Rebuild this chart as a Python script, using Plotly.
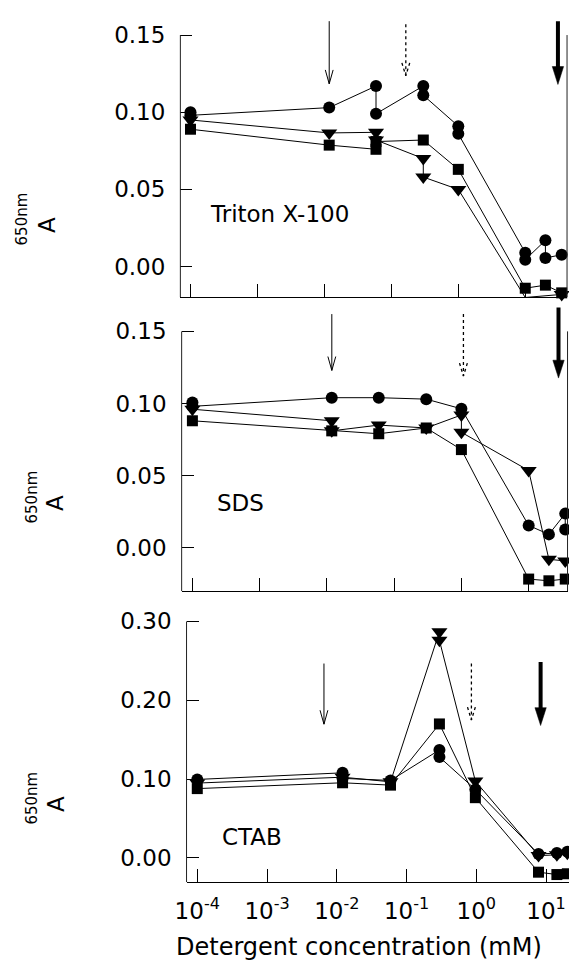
import plotly.graph_objects as go

W, H = 569, 962
FONT = "DejaVu Sans"

# ---------------- data (concentration in mM, absorbance A650) ----------------
# Triton X-100
tx_circ_x = [1e-4, 1e-4, 0.0118, 0.059, 0.059, 0.30, 0.30, 1.0, 1.0, 10.0, 10.0, 20.0, 20.0, 35.0]
tx_circ_y = [0.100, 0.098, 0.103, 0.117, 0.099, 0.117, 0.111, 0.091, 0.086, 0.009, 0.0045, 0.017, 0.0056, 0.0077]
tx_sq_x = [1e-4, 0.0118, 0.059, 0.059, 0.30, 1.0, 10.0, 20.0, 35.0]
tx_sq_y = [0.089, 0.0787, 0.076, 0.081, 0.082, 0.063, -0.014, -0.012, -0.017]
tx_tri_x = [1e-4, 0.0118, 0.059, 0.059, 0.30, 0.30, 1.0, 10.0, 35.0]
tx_tri_y = [0.095, 0.0866, 0.087, 0.082, 0.070, 0.058, 0.050, -0.020, -0.018]

# SDS
sds_circ_x = [1e-4, 1e-4, 0.0118, 0.059, 0.30, 1.0, 10.0, 20.0, 35.0, 35.0]
sds_circ_y = [0.1007, 0.098, 0.104, 0.104, 0.103, 0.0963, 0.0154, 0.0092, 0.0236, 0.0126]
sds_sq_x = [1e-4, 0.0118, 0.059, 0.30, 1.0, 10.0, 20.0, 35.0]
sds_sq_y = [0.088, 0.081, 0.079, 0.083, 0.068, -0.0218, -0.023, -0.0218]
sds_tri_x = [1e-4, 0.0118, 0.0118, 0.059, 0.30, 1.0, 1.0, 10.0, 20.0, 35.0]
sds_tri_y = [0.096, 0.088, 0.081, 0.085, 0.083, 0.092, 0.080, 0.0535, -0.0081, -0.0092]

# CTAB
ctab_circ_x = [1e-4, 0.0121, 0.0121, 0.0589, 0.296, 0.296, 0.97, 7.8, 14.3, 20.2]
ctab_circ_y = [0.0996, 0.108, 0.101, 0.0983, 0.137, 0.128, 0.087, 0.005, 0.0063, 0.008]
ctab_sq_x = [1e-4, 0.0121, 0.0589, 0.296, 0.97, 7.8, 14.3, 20.2]
ctab_sq_y = [0.088, 0.0954, 0.0924, 0.170, 0.0765, -0.018, -0.021, -0.020]
ctab_tri_x = [1e-4, 0.0121, 0.0589, 0.296, 0.296, 0.97, 7.8, 14.3, 20.2]
ctab_tri_y = [0.095, 0.1025, 0.0966, 0.287, 0.276, 0.0975, 0.003, 0.004, 0.006]

panel_names = ["Triton X-100", "SDS", "CTAB"]
x_tickvals = [1e-4, 1e-3, 1e-2, 1e-1, 1e0, 1e1]
x_ticktext = ["10<sup>-4</sup>", "10<sup>-3</sup>", "10<sup>-2</sup>", "10<sup>-1</sup>",
              "10<sup>0</sup>", "10<sup>1</sup>"]
y_tickvals_small = [0.0, 0.05, 0.10, 0.15]
y_ticktext_small = ["0.00", "0.05", "0.10", "0.15"]
y_tickvals_big = [0.0, 0.10, 0.20, 0.30]
y_ticktext_big = ["0.00", "0.10", "0.20", "0.30"]

# arrow markers: (log10 conc, y tail, y head, style)
arrows_tx = [(-1.928, 0.159, 0.1184, "thin"), (-0.784, 0.157, 0.1236, "dot"), (1.488, 0.159, 0.118, "thick")]
arrows_sds = [(-1.927, 0.162, 0.1229, "thin"), (0.03, 0.162, 0.119, "dot"), (1.444, 0.1666, 0.1176, "thick")]
arrows_ctab = [(-2.184, 0.2466, 0.1697, "thin"), (-0.070, 0.2466, 0.175, "dot"), (0.922, 0.2487, 0.168, "thick")]

# ---------------- layout geometry (pixels) ----------------
panels = [
    dict(xpx=(172, 567), ypx=(12, 293), xr=(-4.151, 1.624), yr=(-0.0198, 0.1611), ytop=0.15,
         dec=68.4, unit=1552, right=True,
         series=[(tx_circ_x, tx_circ_y, "circle", 12), (tx_sq_x, tx_sq_y, "square", 11),
                 (tx_tri_x, tx_tri_y, "triangle-down", 14)],
         arrows=arrows_tx, tv=y_tickvals_small, tt=y_ticktext_small,
         label=(200, 209), A=(35, 220), nm=(10, 214)),
    dict(xpx=(173.3, 567.5), ypx=(300, 589), xr=(-4.160, 1.578), yr=(-0.0303, 0.1689), ytop=0.15,
         dec=68.7, unit=1451, right=True,
         series=[(sds_circ_x, sds_circ_y, "circle", 12), (sds_sq_x, sds_sq_y, "square", 11),
                 (sds_tri_x, sds_tri_y, "triangle-down", 14)],
         arrows=arrows_sds, tv=y_tickvals_small, tt=y_ticktext_small,
         label=(207, 500), A=(44, 500), nm=(20, 494)),
    dict(xpx=(178.3, 569), ypx=(612, 881.7), xr=(-4.154, 1.329), yr=(-0.0307, 0.3092), ytop=0.30,
         dec=71.25, unit=793.3, right=False,
         series=[(ctab_circ_x, ctab_circ_y, "circle", 12), (ctab_sq_x, ctab_sq_y, "square", 11),
                 (ctab_tri_x, ctab_tri_y, "triangle-down", 14)],
         arrows=arrows_ctab, tv=y_tickvals_big, tt=y_ticktext_big,
         label=(212, 836), A=(45, 803), nm=(20, 797)),
]

fig = go.Figure()
layout = dict(width=W, height=H, margin=dict(l=0, r=0, t=0, b=0), autosize=False,
              paper_bgcolor="white", plot_bgcolor="white", showlegend=False,
              font=dict(family=FONT, color="black", size=22))
shapes = []
annotations = []

for i, p in enumerate(panels, start=1):
    xa = "x" if i == 1 else f"x{i}"
    ya = "y" if i == 1 else f"y{i}"
    xkey = "xaxis" if i == 1 else f"xaxis{i}"
    ykey = "yaxis" if i == 1 else f"yaxis{i}"
    last = i == len(panels)
    layout[xkey] = dict(
        domain=[p["xpx"][0] / W, p["xpx"][1] / W], type="log", range=list(p["xr"]),
        anchor=ya, showline=True, linecolor="black", linewidth=1, mirror=False,
        ticks="inside", ticklen=13, tickwidth=1, tickcolor="black",
        tickmode="array", tickvals=x_tickvals, ticktext=x_ticktext,
        showticklabels=last, tickfont=dict(family=FONT, size=23, color="black"),
        ticklabelstandoff=8, showgrid=False, zeroline=False, fixedrange=True)
    layout[ykey] = dict(
        domain=[1 - p["ypx"][1] / H, 1 - p["ypx"][0] / H], range=list(p["yr"]),
        anchor=xa, showline=False, ticks="inside", ticklen=12, tickwidth=1,
        tickcolor="black", tickmode="array", tickvals=p["tv"], ticktext=p["tt"],
        tickfont=dict(family=FONT, size=23, color="black"), ticklabelstandoff=14,
        showgrid=False, zeroline=False, fixedrange=True)

    # left spine (up to the top tick) and right edge line
    shapes.append(dict(type="line", xref=f"{xa} domain", yref=ya, x0=0, x1=0,
                       y0=p["yr"][0], y1=p["ytop"], line=dict(color="#222", width=1)))
    if p["right"]:
        shapes.append(dict(type="line", xref=f"{xa} domain", yref=ya, x0=1, x1=1,
                           y0=p["yr"][0], y1=p["ytop"], line=dict(color="#222", width=1)))

    # data series
    for sx, sy, sym, sz in p["series"]:
        fig.add_trace(go.Scatter(x=sx, y=sy, xaxis=xa, yaxis=ya, mode="lines+markers",
                                 line=dict(color="black", width=1),
                                 marker=dict(symbol=sym, size=sz, color="black",
                                             line=dict(width=0)),
                                 cliponaxis=False, hoverinfo="skip"))

    # arrows
    dec, unit = p["dec"], p["unit"]
    for xl, yt, yh, style in p["arrows"]:
        xc = 10 ** xl
        if style == "thin":
            hw, hl = 4.0, 14.0
            fig.add_trace(go.Scatter(x=[xc, xc], y=[yt, yh], xaxis=xa, yaxis=ya, mode="lines",
                                     line=dict(color="black", width=1), hoverinfo="skip",
                                     cliponaxis=False))
            fig.add_trace(go.Scatter(x=[10 ** (xl - hw / dec), xc, 10 ** (xl + hw / dec)],
                                     y=[yh + hl / unit, yh, yh + hl / unit], xaxis=xa, yaxis=ya,
                                     mode="lines", line=dict(color="black", width=1),
                                     hoverinfo="skip", cliponaxis=False))
        elif style == "dot":
            hw, hl = 4.0, 13.0
            fig.add_trace(go.Scatter(x=[xc, xc], y=[yt, yh], xaxis=xa, yaxis=ya, mode="lines",
                                     line=dict(color="black", width=1.3, dash="dot"),
                                     hoverinfo="skip", cliponaxis=False))
            fig.add_trace(go.Scatter(x=[10 ** (xl - hw / dec), xc, 10 ** (xl + hw / dec)],
                                     y=[yh + hl / unit, yh, yh + hl / unit], xaxis=xa, yaxis=ya,
                                     mode="lines", line=dict(color="black", width=1.3, dash="dot"),
                                     hoverinfo="skip", cliponaxis=False))
        else:
            hw, hl = 5.8, 18.0
            fig.add_trace(go.Scatter(x=[xc, xc], y=[yt, yh + hl * 0.7 / unit], xaxis=xa, yaxis=ya,
                                     mode="lines", line=dict(color="black", width=4),
                                     hoverinfo="skip", cliponaxis=False))
            fig.add_trace(go.Scatter(x=[10 ** (xl - hw / dec), 10 ** (xl + hw / dec), xc,
                                        10 ** (xl - hw / dec)],
                                     y=[yh + hl / unit, yh + hl / unit, yh, yh + hl / unit],
                                     xaxis=xa, yaxis=ya, mode="lines", fill="toself",
                                     fillcolor="black", line=dict(color="black", width=0.5),
                                     hoverinfo="skip", cliponaxis=False))

    # panel name
    annotations.append(dict(text=panel_names[i - 1], xref="paper", yref="paper",
                            x=p["label"][0] / W, y=1 - p["label"][1] / H, xanchor="left",
                            yanchor="middle", showarrow=False,
                            font=dict(family=FONT, size=23, color="black")))
    # y-axis label  A / 650nm
    annotations.append(dict(text="A", xref="paper", yref="paper", x=p["A"][0] / W,
                            y=1 - p["A"][1] / H, xanchor="center", yanchor="middle",
                            textangle=-90, showarrow=False,
                            font=dict(family=FONT, size=23, color="black")))
    annotations.append(dict(text="650nm", xref="paper", yref="paper", x=p["nm"][0] / W,
                            y=1 - p["nm"][1] / H, xanchor="center", yanchor="middle",
                            textangle=-90, showarrow=False,
                            font=dict(family=FONT, size=15, color="black")))

annotations.append(dict(text="Detergent concentration (mM)", xref="paper", yref="paper",
                        x=354 / W, y=1 - 947 / H, xanchor="center", yanchor="middle",
                        showarrow=False, font=dict(family=FONT, size=24, color="black")))

layout["shapes"] = shapes
layout["annotations"] = annotations
fig.update_layout(**layout)
fig.write_html("out.html")
